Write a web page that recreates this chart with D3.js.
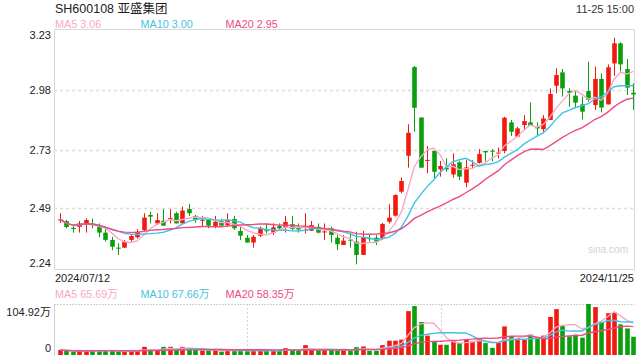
<!DOCTYPE html>
<html>
<head>
<meta charset="utf-8">
<script src="https://cdn.jsdelivr.net/npm/d3@7"></script>
<style>
body { margin: 0; background: #fff; }
svg { font-family: "Liberation Sans", Arial, "Noto Sans CJK SC", sans-serif; }
</style>
</head>
<body>
<script>
// trading days 2024/07/12 - 2024/11/25
const dates = ("07-12 07-15 07-16 07-17 07-18 07-19 07-22 07-23 07-24 07-25 07-26 07-29 07-30 07-31 " +
  "08-01 08-02 08-05 08-06 08-07 08-08 08-09 08-12 08-13 08-14 08-15 08-16 08-19 08-20 08-21 08-22 08-23 " +
  "08-26 08-27 08-28 08-29 08-30 09-02 09-03 09-04 09-05 09-06 09-09 09-10 09-11 09-12 09-13 09-18 09-19 " +
  "09-20 09-23 09-24 09-25 09-26 09-27 09-30 10-08 10-09 10-10 10-11 10-14 10-15 10-16 10-17 10-18 10-21 " +
  "10-22 10-23 10-24 10-25 10-28 10-29 10-30 10-31 11-01 11-04 11-05 11-06 11-07 11-08 11-11 11-12 11-13 " +
  "11-14 11-15 11-18 11-19 11-20 11-21 11-22 11-25").split(" ");

const opens = [2.44, 2.438, 2.41, 2.414, 2.428, 2.427, 2.417, 2.39, 2.36, 2.328,
  2.328, 2.36, 2.371, 2.401, 2.463, 2.428, 2.439, 2.447, 2.47, 2.428,
  2.487, 2.459, 2.44, 2.442, 2.417, 2.437, 2.421, 2.446, 2.397, 2.369,
  2.349, 2.377, 2.40, 2.39, 2.417, 2.412, 2.425, 2.41, 2.40, 2.398,
  2.414, 2.393, 2.408, 2.369, 2.339, 2.361, 2.353, 2.298, 2.367, 2.369,
  2.366, 2.435, 2.46, 2.559, 2.707, 3.073, 2.865, 2.688, 2.727, 2.651,
  2.658, 2.63, 2.68, 2.596, 2.667, 2.678, 2.727, 2.728, 2.717, 2.727,
  2.845, 2.786, 2.834, 2.845, 2.826, 2.817, 2.855, 2.996, 3.051, 2.974,
  2.955, 2.919, 2.974, 2.916, 3.024, 2.919, 3.088, 3.171, 3.065, 2.967];
const highs = [2.47, 2.442, 2.417, 2.438, 2.449, 2.448, 2.428, 2.415, 2.373, 2.346,
  2.36, 2.38, 2.404, 2.47, 2.476, 2.47, 2.487, 2.487, 2.476, 2.497,
  2.508, 2.463, 2.459, 2.445, 2.459, 2.447, 2.47, 2.459, 2.415, 2.38,
  2.38, 2.415, 2.428, 2.428, 2.428, 2.459, 2.459, 2.428, 2.47, 2.438,
  2.428, 2.428, 2.415, 2.38, 2.38, 2.387, 2.394, 2.397, 2.38, 2.38,
  2.43, 2.507, 2.548, 2.617, 2.837, 3.077, 2.865, 2.747, 2.727, 2.685,
  2.696, 2.717, 2.685, 2.689, 2.689, 2.735, 2.727, 2.735, 2.741, 2.868,
  2.855, 2.827, 2.875, 2.927, 2.845, 2.875, 2.985, 3.068, 3.065, 2.985,
  2.977, 2.951, 3.095, 3.075, 3.047, 3.084, 3.194, 3.175, 3.106, 3.006];
const lows = [2.43, 2.408, 2.39, 2.39, 2.39, 2.408, 2.371, 2.353, 2.318, 2.298,
  2.327, 2.353, 2.366, 2.394, 2.428, 2.421, 2.419, 2.428, 2.428, 2.428,
  2.459, 2.431, 2.417, 2.408, 2.408, 2.419, 2.414, 2.401, 2.36, 2.349,
  2.328, 2.371, 2.387, 2.38, 2.40, 2.39, 2.40, 2.39, 2.387, 2.398,
  2.387, 2.36, 2.349, 2.318, 2.339, 2.328, 2.259, 2.298, 2.353, 2.339,
  2.36, 2.428, 2.456, 2.552, 2.658, 2.806, 2.658, 2.635, 2.611, 2.621,
  2.641, 2.617, 2.607, 2.577, 2.655, 2.675, 2.683, 2.685, 2.696, 2.717,
  2.789, 2.786, 2.817, 2.83, 2.79, 2.80, 2.855, 2.965, 2.951, 2.91,
  2.903, 2.857, 2.93, 2.896, 2.886, 2.919, 3.037, 3.054, 2.958, 2.896];
const closes = [2.445, 2.413, 2.405, 2.428, 2.442, 2.421, 2.39, 2.36, 2.332, 2.326,
  2.353, 2.376, 2.394, 2.452, 2.456, 2.442, 2.419, 2.45, 2.428, 2.481,
  2.47, 2.442, 2.443, 2.419, 2.435, 2.419, 2.442, 2.408, 2.377, 2.349,
  2.373, 2.41, 2.397, 2.412, 2.408, 2.434, 2.405, 2.403, 2.402, 2.421,
  2.39, 2.395, 2.38, 2.342, 2.357, 2.359, 2.298, 2.37, 2.365, 2.353,
  2.426, 2.452, 2.545, 2.603, 2.802, 2.905, 2.658, 2.69, 2.641, 2.665,
  2.651, 2.672, 2.621, 2.659, 2.67, 2.714, 2.721, 2.725, 2.72, 2.864,
  2.806, 2.82, 2.85, 2.83, 2.82, 2.861, 2.962, 3.04, 2.985, 2.967,
  2.926, 2.889, 2.937, 3.024, 2.906, 3.072, 3.171, 3.084, 2.988, 2.96];
// volume, unit: 万
const volumes = [10.5, 8.4, 7.0, 9.1, 9.1, 9.1, 9.1, 9.1, 9.1, 7.0,
  7.0, 9.1, 9.1, 16.8, 9.1, 9.1, 16.8, 16.8, 10.5, 16.8,
  11.9, 10.5, 9.1, 9.1, 10.5, 7.0, 9.1, 9.1, 9.1, 9.1,
  9.1, 9.1, 9.1, 9.1, 9.1, 14.0, 10.5, 10.5, 20.3, 10.5,
  9.1, 10.5, 10.5, 9.1, 10.5, 9.1, 16.1, 17.5, 8.4, 8.4,
  20.3, 29.4, 29.4, 31.5, 90.2, 100.7, 67.9, 39.9, 28.0, 21.0,
  21.0, 28.0, 24.5, 32.9, 28.0, 35.0, 24.5, 14.7, 25.9, 58.8,
  38.5, 35.0, 31.5, 42.0, 32.9, 39.9, 78.3, 94.4, 59.5, 38.5,
  42.0, 35.7, 104.92, 98.6, 67.9, 86.0, 87.4, 63.0, 54.6, 37.5];

const priceTicks = [3.23, 2.98, 2.73, 2.49, 2.24];
const volTicks = [104.92, 0];
const maPeriods = [5, 10, 20];
const maColors = ["#f9a9c5", "#3fc4e2", "#ee4b80"];
const priceLegend = ["MA5 3.06", "MA10 3.00", "MA20 2.95"];
const volLegend = ["MA5 65.69万", "MA10 67.66万", "MA20 58.35万"];

const UP = "#f2190f", DOWN = "#0a9f0c";
const W = 640, H = 360;
const left = 54, right = 634;
const pTop = 29, pBottom = 269;
const vTop = 304, vBottom = 355;

const svg = d3.select("body").append("svg")
    .attr("width", W).attr("height", H);

const x = d3.scalePoint().domain(d3.range(dates.length)).range([60, 633.3]);
const y = d3.scaleLinear().domain([2.24, 3.23]).range([pBottom, pTop]);
const yv = d3.scaleLinear().domain([0, 104.92]).range([vBottom, vTop]);
const bw = 4.6;

const data = dates.map((d, i) => ({i: i, date: d, o: opens[i], h: highs[i], l: lows[i], c: closes[i], v: volumes[i]}));

function movingAvg(arr, n) {
    return arr.map((d, i) => d3.mean(arr.slice(Math.max(0, i - n + 1), i + 1)));
}

// header texts
svg.append("text").attr("x", 55).attr("y", 13).attr("font-size", 12.5).attr("fill", "#222")
    .text("SH600108 亚盛集团");
svg.append("text").attr("x", 634).attr("y", 12.5).attr("font-size", 11).attr("fill", "#333")
    .attr("text-anchor", "end").text("11-25 15:00");

const legendX = [55, 140.5, 225.5];
svg.selectAll(".plegend").data(priceLegend).enter().append("text")
    .attr("x", (d, i) => legendX[i]).attr("y", 27.5)
    .attr("font-size", 10.8).attr("fill", (d, i) => maColors[i]).text(d => d);

// price pane frame
svg.append("rect").attr("x", left + 0.5).attr("y", pTop + 0.5)
    .attr("width", right - left).attr("height", pBottom - pTop)
    .attr("fill", "none").attr("stroke", "#d8d8d8");

svg.selectAll(".pgrid").data(priceTicks.slice(1, -1)).enter().append("line")
    .attr("x1", left).attr("x2", right)
    .attr("y1", d => Math.round(y(d)) + 0.5).attr("y2", d => Math.round(y(d)) + 0.5)
    .attr("stroke", "#dcdcdc").attr("stroke-width", 1.5).attr("stroke-dasharray", "3,3");

svg.selectAll(".plabel").data(priceTicks).enter().append("text")
    .attr("x", 51).attr("text-anchor", "end").attr("font-size", 11).attr("fill", "#222")
    .attr("y", (d, i) => y(d) + (i == 0 ? 9.5 : i == priceTicks.length - 1 ? -2.5 : 4))
    .text(d => d.toFixed(2));

svg.append("text").attr("x", 628).attr("y", 253).attr("text-anchor", "end")
    .attr("font-size", 10).attr("fill", "#d2d2d2").text("sina.com");

// candles
const candle = svg.append("g").selectAll("g").data(data).enter().append("g");
candle.append("line")
    .attr("x1", d => Math.round(x(d.i)) + 0.5).attr("x2", d => Math.round(x(d.i)) + 0.5)
    .attr("y1", d => y(d.h)).attr("y2", d => y(d.l))
    .attr("stroke", d => d.c >= d.o ? UP : DOWN).attr("stroke-width", 1);
candle.append("rect")
    .attr("x", d => Math.round(x(d.i)) + 0.5 - bw / 2).attr("width", bw)
    .attr("y", d => y(Math.max(d.o, d.c)))
    .attr("height", d => Math.max(1, Math.abs(y(d.o) - y(d.c))))
    .attr("fill", d => d.c >= d.o ? UP : DOWN);

// price MAs
maPeriods.forEach((n, k) => {
    const ma = movingAvg(closes, n);
    svg.append("path").datum(ma)
        .attr("fill", "none").attr("stroke", maColors[k]).attr("stroke-width", 1.4)
        .attr("d", d3.line().x((d, i) => x(i)).y(d => y(d)));
});

// dates
svg.append("text").attr("x", 55).attr("y", 282).attr("font-size", 11).attr("fill", "#222").text("2024/07/12");
svg.append("text").attr("x", 634).attr("y", 282).attr("font-size", 11).attr("fill", "#222")
    .attr("text-anchor", "end").text("2024/11/25");

// volume pane
svg.selectAll(".vlegend").data(volLegend).enter().append("text")
    .attr("x", (d, i) => legendX[i]).attr("y", 298)
    .attr("font-size", 10.8).attr("fill", (d, i) => maColors[i]).text(d => d);

svg.append("line").attr("x1", left).attr("x2", right).attr("y1", vTop + 0.5).attr("y2", vTop + 0.5)
    .attr("stroke", "#d0d0d0").attr("stroke-dasharray", "2,1");
svg.append("line").attr("x1", left + 0.5).attr("x2", left + 0.5).attr("y1", vTop).attr("y2", vBottom + 1)
    .attr("stroke", "#d0d0d0");
[1, 2].forEach(k => {
    const gx = Math.round(left + (right - left) * k / 3) + 0.5;
    svg.append("line").attr("x1", gx).attr("x2", gx).attr("y1", vTop).attr("y2", vBottom)
        .attr("stroke", "#d4d4d4").attr("stroke-dasharray", "2,2");
});

svg.selectAll(".vlabel").data(volTicks).enter().append("text")
    .attr("x", 51).attr("text-anchor", "end").attr("font-size", 11).attr("fill", "#222")
    .attr("y", (d, i) => i == 0 ? yv(d) + 11.5 : yv(d) - 3.5)
    .text(d => d == 0 ? "0" : d.toFixed(2) + "万");

svg.append("g").selectAll("rect").data(data).enter().append("rect")
    .attr("x", d => Math.round(x(d.i)) + 0.5 - bw / 2).attr("width", bw)
    .attr("y", d => yv(d.v)).attr("height", d => vBottom - yv(d.v))
    .attr("fill", d => d.c >= d.o ? UP : DOWN);

maPeriods.forEach((n, k) => {
    const ma = movingAvg(volumes, n);
    svg.append("path").datum(ma)
        .attr("fill", "none").attr("stroke", maColors[k]).attr("stroke-width", 1.4)
        .attr("d", d3.line().x((d, i) => x(i)).y(d => yv(d)));
});
</script>
</body>
</html>
